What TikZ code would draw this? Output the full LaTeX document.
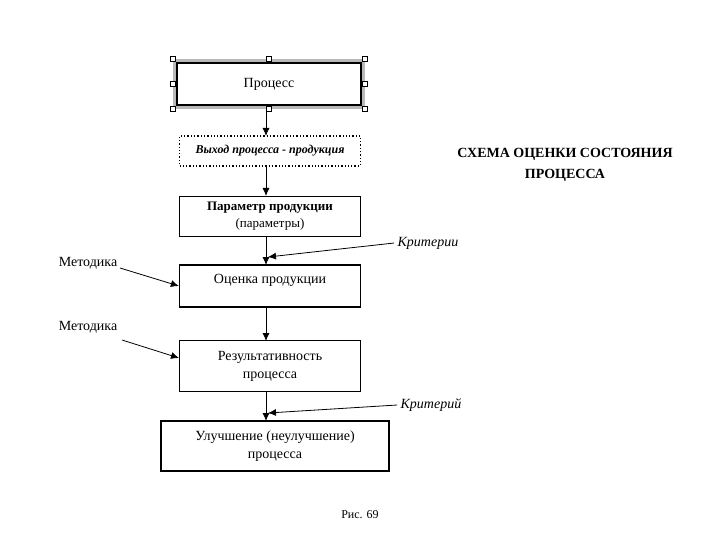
\documentclass[tikz,border=0pt]{standalone}
\usepackage{fontspec}
\setmainfont{Liberation Serif}
\usetikzlibrary{arrows.meta}
\begin{document}
\begin{tikzpicture}[x=1pt,y=-1pt,
  box/.style={draw,line width=1.3pt,minimum width=181pt,align=center,font=\fontsize{14}{18}\selectfont},
  arr/.style={-{Latex[length=8pt,width=7pt]},line width=0.8pt},
  lab/.style={font=\fontsize{14}{16}\selectfont},
  hdl/.style={draw,fill=white,line width=0.4pt,minimum size=5pt,inner sep=0pt}]
\useasboundingbox (0,0) rectangle (720,540);
\fill[gray!55] (173,59) rectangle (365,109);
\node[box,fill=white,minimum height=42pt,minimum width=184pt] (p) at (269,84) {Процесс};
\foreach \x/\y [count=\i] in {173/59,269/59,365/59,173/84,365/84,173/109,269/109,365/109}
  \node[hdl] (h\i) at (\x,\y) {};
\node[box,dotted,line width=1.2pt,minimum height=30pt,font=\fontsize{12}{14}\selectfont\bfseries\itshape] (v) at (270,151) {Выход процесса - продукция};
\node[box,line width=0.8pt,minimum height=40pt,font=\fontsize{13}{17}\selectfont] (par) at (270,216) {\textbf{Параметр продукции}\\(параметры)};
\node[box,minimum height=42pt,text depth=14pt] (o) at (270,286) {Оценка продукции};
\node[box,minimum height=51pt] (r) at (270,366) {Результативность\\процесса};
\node[box,minimum height=50pt,minimum width=228pt] (u) at (275,446) {Улучшение (неулучшение)\\процесса};
\draw[arr] (266,109) -- (266,136);
\draw[arr] (266,166) -- (266,196);
\draw[arr] (266,236) -- (266,265);
\draw[arr] (266,307) -- (266,341);
\draw[arr] (266,392) -- (266,421);
\node[lab,font=\fontsize{14}{16}\selectfont\itshape] (k1) at (428,243) {Критерии};
\node[lab,font=\fontsize{14}{16}\selectfont\itshape] (k2) at (431,405) {Критерий};
\node[lab] (m1) at (88,263) {Методика};
\node[lab] (m2) at (88,327) {Методика};
\coordinate (t1) at (268,257);
\coordinate (t2) at (268,413);
\draw[arr] (k1.west) -- (t1);
\draw[arr] (k2.west) -- (t2);
\draw[arr] (120,268) -- (o.west);
\draw[arr] (122,340) -- (179,358);
\node[font=\fontsize{14}{21}\selectfont\bfseries,align=center] (t) at (565,165) {СХЕМА ОЦЕНКИ СОСТОЯНИЯ\\ПРОЦЕССА};
\node[font=\fontsize{12}{14}\selectfont] (f) at (360,515) {Рис. 69};
\end{tikzpicture}
\end{document}
